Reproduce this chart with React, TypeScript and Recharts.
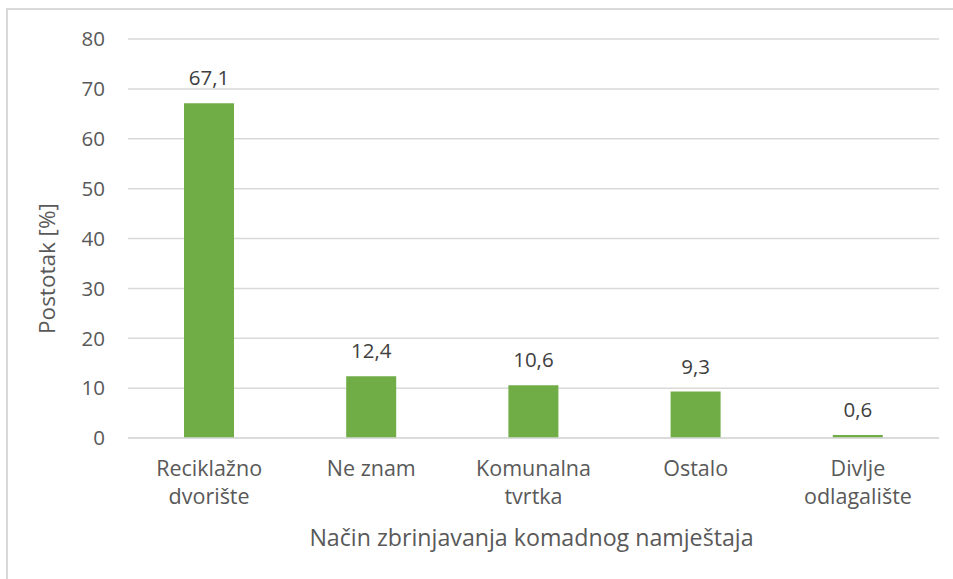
import React from "react";
import { BarChart, Bar, XAxis, YAxis, CartesianGrid, LabelList, Label } from "recharts";

const categories = ["Reciklažno\ndvorište", "Ne znam", "Komunalna\ntvrtka", "Ostalo", "Divlje\nodlagalište"];
const values = [67.1, 12.4, 10.6, 9.3, 0.6];
const yTicks = [0, 10, 20, 30, 40, 50, 60, 70, 80];
const xTitle = "Način zbrinjavanja komadnog namještaja";
const yTitle = "Postotak [%]";

const data = categories.map((c, i) => ({ name: c, value: values[i] }));

const FONT = "'Open Sans', sans-serif";
const TXT = "#595959";

const CatTick = (props: any) => {
  const { x, y, payload } = props;
  const lines = String(payload.value).split("\n");
  return (
    <g transform={`translate(${x},${y})`}>
      {lines.map((l: string, i: number) => (
        <text key={i} x={0} y={24 + i * 28} textAnchor="middle" dominantBaseline="middle" fill={TXT} fontSize={21.5} fontFamily={FONT}>
          {l}
        </text>
      ))}
    </g>
  );
};

const XTitle = (props: any) => {
  const vb = props.viewBox || {};
  const cx = vb.x + vb.width / 2 - 2;
  return (
    <text x={cx} y={vb.y + 102} textAnchor="middle" dominantBaseline="middle" fill={TXT} fontSize={23.2} fontFamily={FONT}>
      {xTitle}
    </text>
  );
};

const YTitle = (props: any) => {
  const vb = props.viewBox || {};
  const cx = vb.x - 19;
  const cy = vb.y + vb.height / 2 + 30;
  return (
    <text x={cx} y={cy} transform={`rotate(-90, ${cx}, ${cy})`} textAnchor="middle" dominantBaseline="middle" fill={TXT} fontSize={22.5} fontFamily={FONT}>
      {yTitle}
    </text>
  );
};

const fmt = (v: any) => String(v).replace(".", ",");

export default function App() {
  return (
    <div style={{ position: "absolute", left: 0, top: 0, width: 953, height: 579, overflow: "hidden", background: "#fff" }}>
      <div style={{ position: "absolute", left: 6, top: 8, width: 1000, height: 1000, border: "2px solid #d9d9d9", boxSizing: "border-box" }} />
      <div style={{ position: "absolute", left: 0, top: 0 }}>
        <BarChart width={953} height={579} data={data} margin={{ top: 39, right: 14, bottom: 71, left: 68 }}>
          <CartesianGrid vertical={false} stroke="#d9d9d9" strokeWidth={1.5} />
          <XAxis dataKey="name" axisLine={{ stroke: "#d9d9d9", strokeWidth: 1.5 }} tickLine={false} tick={<CatTick />} height={70} interval={0}>
            <Label content={<XTitle />} />
          </XAxis>
          <YAxis domain={[0, 80]} ticks={yTicks} axisLine={false} tickLine={false} width={60} tick={{ fill: TXT, fontSize: 20.5, fontFamily: FONT }} tickMargin={17}>
            <Label content={<YTitle />} />
          </YAxis>
          <Bar dataKey="value" fill="#70ad47" barSize={50} isAnimationActive={false}>
            <LabelList dataKey="value" position="top" offset={18} formatter={fmt} fill="#404040" fontSize={20.5} fontFamily={FONT} />
          </Bar>
        </BarChart>
      </div>
    </div>
  );
}
